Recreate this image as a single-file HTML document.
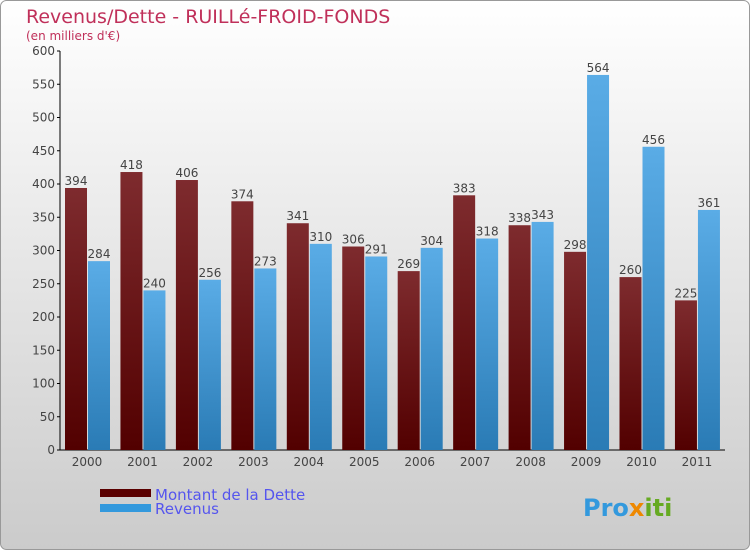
<!DOCTYPE html>
<html><head><meta charset="utf-8"><style>
body{margin:0}
#c{width:750px;height:550px;position:relative;overflow:hidden;font-family:"DejaVu Sans","Liberation Sans",sans-serif}
</style></head><body>
<div id="c">
<svg width="750" height="550" xmlns="http://www.w3.org/2000/svg">
<defs>
<linearGradient id="bg" x1="0" y1="0" x2="0" y2="1"><stop offset="0" stop-color="#ffffff"/><stop offset="1" stop-color="#cbcbcb"/></linearGradient>
<linearGradient id="gd" x1="0" y1="0" x2="0" y2="1"><stop offset="0" stop-color="#7e2b2e"/><stop offset="1" stop-color="#520000"/></linearGradient>
<linearGradient id="gr" x1="0" y1="0" x2="0" y2="1"><stop offset="0" stop-color="#5aace6"/><stop offset="1" stop-color="#2a7bb5"/></linearGradient>
</defs>
<rect x="0.5" y="0.5" width="749" height="549" rx="6" fill="url(#bg)" stroke="#999"/>
<text x="26" y="23" font-size="19" fill="#c0305a">Revenus/Dette - RUILLé-FROID-FONDS</text>
<text x="26" y="40" font-size="12" fill="#c0305a">(en milliers d'€)</text>
<g id="ax"></g><g id="bars"></g>
<rect x="100" y="489" width="51" height="8" fill="#5a0000"/>
<rect x="100" y="504" width="51" height="8" fill="#3399dd"/>
<text x="155" y="500" font-size="15" fill="#5555ee">Montant de la Dette</text>
<text x="155" y="514" font-size="15" fill="#5555ee">Revenus</text>
<text x="583" y="516" font-size="24" font-weight="bold" fill="#3399dd">Pro<tspan fill="#ee8800">x</tspan><tspan fill="#66aa22">iti</tspan></text>
</svg>
</div>
<script>
const years=["2000","2001","2002","2003","2004","2005","2006","2007","2008","2009","2010","2011"];
const dette=[394,418,406,374,341,306,269,383,338,298,260,225];
const revenus=[284,240,256,273,310,291,304,318,343,564,456,361];
const yTicks=[0,50,100,150,200,250,300,350,400,450,500,550,600];
const NS="http://www.w3.org/2000/svg";
const y=v=>450-v*399/600;
const xc=i=>87+i*55.45;
function mk(t,a,p){const e=document.createElementNS(NS,t);for(const k in a)e.setAttribute(k,a[k]);p.appendChild(e);return e;}
const ax=document.getElementById('ax'),bars=document.getElementById('bars');
const yl=mk('line',{x1:60,y1:51,x2:60,y2:450,stroke:'#000'},ax);


const xl=mk('line',{x1:60,y1:450,x2:725,y2:450,stroke:'#000'},ax);


yTicks.forEach(v=>{
  mk('line',{x1:57,x2:60,y1:y(v),y2:y(v),stroke:'#000'},ax);
  const t=mk('text',{x:55,y:y(v)+4,'text-anchor':'end','font-size':12,fill:'#444'},ax);t.textContent=v;
  
  
});
years.forEach((yr,i)=>{
  const c=xc(i);
  const t=mk('text',{x:c,y:466,'text-anchor':'middle','font-size':12,fill:'#444'},ax);t.textContent=yr;
  
  
  const b1=mk('rect',{x:c-22,y:y(dette[i]),width:22,height:450-y(dette[i]),fill:'url(#gd)'},bars);
  
  
  const b2=mk('rect',{x:c+1,y:y(revenus[i]),width:22,height:450-y(revenus[i]),fill:'url(#gr)'},bars);
  
  
  const l1=mk('text',{x:c-11,y:y(dette[i])-3,'text-anchor':'middle','font-size':12,fill:'#444'},bars);l1.textContent=dette[i];
  
  
  const l2=mk('text',{x:c+12,y:y(revenus[i])-3,'text-anchor':'middle','font-size':12,fill:'#444'},bars);l2.textContent=revenus[i];
  
  
});
</script>
</body></html>
